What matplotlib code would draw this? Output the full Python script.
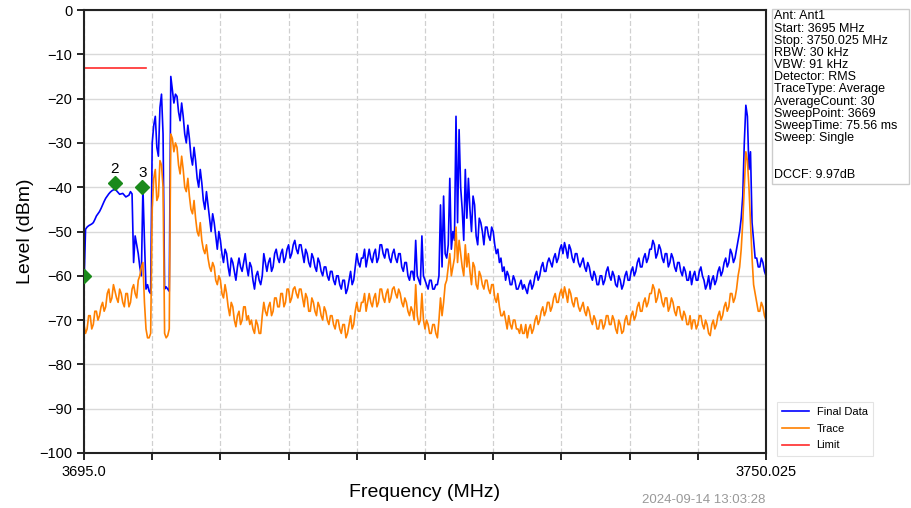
import numpy as np
import matplotlib
matplotlib.use("Agg")
import matplotlib.pyplot as plt
from matplotlib.patches import Rectangle

plt.rcParams['font.family'] = ['Liberation Sans', 'DejaVu Sans']

# ==========================
# Dados
# ==========================
f_start = 3695.0
f_stop = 3750.025

final_data = [
    -62, -49.5, -49, -48.7, -48.5, -48.3, -48, -47.3, -46.5, -46, -45.5, -44.8, -44, -43.2, -42.5, -42, -41.5, -41.1, -40.8, -40.6,
    -40.5, -40.8, -41.2, -41.6, -41.5, -41.4, -41.8, -42.2, -42, -41.8, -41, -41.5, -57, -51, -53, -55, -58, -60, -40, -52,
    -63, -62, -63.5, -64, -30, -26, -24, -31, -33, -22, -19, -28, -63, -62.5, -63, -63.5, -15, -18, -21, -19,
    -19.5, -23, -25, -21, -24, -28, -30, -26, -29, -33, -35, -31, -34, -38, -40, -36, -39, -43, -45, -41,
    -44, -47, -50, -46, -48, -51, -54, -50, -52, -55, -57, -54, -55, -58, -60, -56, -57, -59, -61, -58,
    -56, -58, -59, -57, -55, -58, -60, -57, -58, -61, -63, -60, -59, -61, -62, -60, -55, -57, -59, -57,
    -56, -59, -58, -55, -54, -56, -57, -55, -54, -57, -56, -54, -53, -56, -55, -53, -52, -54, -55, -53,
    -53, -55, -57, -54, -55, -57, -58, -55, -56, -58, -59, -56, -57, -59, -60, -58, -58, -60, -61, -59,
    -59, -61, -62, -60, -60, -62, -63, -61, -61, -64, -63, -61, -59, -62, -61, -58, -55, -57, -58, -56,
    -56, -54, -58, -56, -54, -56, -57, -55, -54, -57, -56, -53, -53, -55, -56, -54, -54, -56, -57, -55,
    -54, -56, -57, -55, -55, -58, -59, -57, -57, -60, -61, -59, -59, -61, -52, -60, -61, -62, -51, -60,
    -61, -62, -63, -61, -61, -63, -63, -62, -62, -60, -44, -58, -42, -55, -56, -53, -38, -54, -50, -52,
    -24, -48, -27, -40, -45, -52, -36, -47, -38, -45, -50, -42, -44, -51, -53, -47, -48, -50, -53, -49,
    -49, -51, -52, -49, -50, -53, -55, -54, -57, -56, -59, -58, -61, -59, -60, -62, -62, -60, -61, -63,
    -63, -62, -61, -63, -62, -63, -64, -62, -61, -63, -62, -60, -59, -61, -60, -58, -57, -59, -59, -57,
    -56, -57, -58, -56, -55, -57, -56, -54, -53, -55, -52.5, -54, -56, -53, -54, -56, -57, -55, -55, -57,
    -58, -57, -56, -58, -59, -57, -58, -60, -61, -59, -60, -62, -62, -60, -60, -62, -61, -59, -58, -60,
    -61, -59, -60, -62, -62.5, -60, -61, -63, -62, -60, -59, -61, -61, -59, -58, -60, -59, -57, -56, -58,
    -58, -56, -55, -57, -56, -54, -54, -52, -53, -56, -55, -53, -54, -56, -57, -55, -55, -58, -57, -55,
    -56, -58, -59, -57, -57, -59, -60, -58, -59, -61, -61, -59, -62, -60, -59, -61, -61, -59, -58, -60,
    -61, -63, -62, -60, -63, -61, -60, -62, -61, -59, -58, -60, -59, -57, -56, -58, -57, -54, -55, -57,
    -56, -54, -52, -50, -47, -42, -30, -21.5, -24, -36, -32, -48, -52, -56, -56, -58, -58, -56, -57, -59,
    -60,
]

trace = [
    -71, -73, -72, -69, -69, -72, -71, -68, -68, -70, -69, -67, -66, -68, -67, -64, -63, -66, -65, -62,
    -63.5, -65, -66, -63, -64, -66, -67, -64, -64, -67, -66, -63, -62, -64, -65, -61, -60, -58, -57, -66,
    -72, -74, -74, -73, -45, -38, -36, -43, -42, -34, -35, -40, -73, -74, -73.5, -72, -28, -29, -32, -30,
    -31, -35, -37, -33, -36, -40, -41, -38, -42, -45, -46, -43, -47, -50, -51, -48, -52, -54, -55, -53,
    -56, -58, -59, -57, -58, -61, -62, -60, -61, -64, -65, -62, -64, -67, -69, -66, -67, -70, -71.5, -69,
    -68, -71, -70, -67, -67, -70, -69, -71, -70, -72, -73, -70, -71, -73, -73, -69, -66, -68, -69, -67,
    -66, -69, -68, -65, -65, -67, -67, -64, -64, -67, -66, -63, -63, -66, -65, -63, -62.5, -64, -65, -63,
    -63, -65, -67, -64, -65, -68, -68, -65, -66, -68, -69, -66, -67, -69, -70, -67, -68, -70, -71, -69,
    -69, -71, -72, -70, -70, -72, -73, -71, -71, -74, -73, -71, -69, -72, -71, -68, -66, -68, -68, -66,
    -66, -64, -68, -66, -64, -66, -67, -65, -64, -67, -66, -63, -63, -65, -66, -64, -63, -66, -65, -63,
    -62.5, -64, -65, -63, -64, -66, -67, -65, -66, -68, -69, -67, -68, -70, -62, -69, -71, -70, -64, -70,
    -72, -70, -71, -73, -73, -71, -71, -73, -74, -70, -65, -69, -66, -62, -61, -58, -55, -60, -58, -56,
    -49, -57, -52, -55, -58, -60, -53, -58, -55, -59, -62, -57, -58, -62, -63, -59, -60, -62, -63, -61,
    -61, -63, -64, -62, -62, -65, -66, -64, -67, -69, -69, -68, -70, -72, -69, -71, -72, -70, -70, -72,
    -72, -73, -71, -73, -73, -71, -74, -72, -71, -73, -72, -70, -69, -71, -70, -68, -67, -69, -68, -66,
    -66, -68, -67, -65, -64, -66, -66, -64, -63, -65, -62.5, -64, -66, -63, -64, -66, -67, -65, -65, -67,
    -68, -67, -66, -68, -69, -67, -68, -70, -71, -69, -70, -72, -72, -70, -70, -72, -71, -69, -69, -71,
    -71, -69, -70, -72, -73, -70, -71, -73, -72.5, -70, -69, -71, -71, -69, -68, -70, -69, -67, -66, -68,
    -68, -66, -65, -67, -66, -64, -64, -62, -63, -66, -65, -63, -64, -66, -67, -65, -65, -68, -67, -65,
    -66, -68, -69, -67, -67, -69, -70, -68, -69, -71, -71, -69, -72, -70, -70, -72, -71, -69, -69, -71,
    -72, -70, -71, -73, -73.5, -71, -70, -72, -71, -69, -68, -70, -69, -67, -66, -68, -67, -64, -64, -66,
    -65, -63, -60, -58, -54, -48, -40, -32, -34, -40, -48, -56, -62, -64, -66, -68, -68, -66, -67, -69,
    -70,
]

limit_freqs = [3695.0, 3700.0]
limit_levels = [-13, -13]

marker_freqs = [3695.0, 3697.5, 3699.7]
marker_levels = [-60, -39, -40]
marker_labels = ["", "2", "3"]

info_lines = [
    "Ant: Ant1",
    "Start: 3695 MHz",
    "Stop: 3750.025 MHz",
    "RBW: 30 kHz",
    "VBW: 91 kHz",
    "Detector: RMS",
    "TraceType: Average",
    "AverageCount: 30",
    "SweepPoint: 3669",
    "SweepTime: 75.56 ms",
    "Sweep: Single",
]
dccf_text = "DCCF: 9.97dB"
timestamp = "2024-09-14 13:03:28"

freqs_final = np.linspace(f_start, f_stop, len(final_data))
freqs_trace = np.linspace(f_start, f_stop, len(trace))

# ==========================
# Gráfico
# ==========================
W, H = 912, 508
fig = plt.figure(figsize=(W / 100, H / 100), dpi=100)
ax = fig.add_axes([84 / W, 1 - 453 / H, (766 - 84) / W, (453 - 10) / H])

ax.plot(freqs_final, final_data, color="#0000ff", lw=1.2, label="Final Data")
ax.plot(freqs_trace, trace, color="#ff8000", lw=1.2, label="Trace")
ax.plot(limit_freqs, limit_levels, color="#ff2a2a", lw=1.2, label="Limit")

ax.plot(marker_freqs, marker_levels, "D", color="#1a8a1a", ms=7, zorder=5)
for fx, lv, lb in zip(marker_freqs, marker_levels, marker_labels):
    if lb:
        ax.text(fx, lv + 1.6, lb, ha="center", va="bottom", fontsize=11)

ax.set_xlim(f_start, f_stop)
ax.set_ylim(-100, 0)
xt = np.linspace(f_start, f_stop, 11)
ax.set_xticks(xt)
ax.set_xticklabels(["3695.0"] + [""] * 9 + ["3750.025"])
ax.set_yticks(np.arange(-100, 1, 10))
ax.tick_params(labelsize=10.5, length=5, width=1.2)

ax.grid(axis="y", color="#d9d9d9", lw=1.0)
ax.grid(axis="x", color="#d0d0d0", lw=0.9, ls=(0, (4, 2)))
ax.set_axisbelow(True)
for s in ax.spines.values():
    s.set_linewidth(1.5)
    s.set_color("#222222")

ax.set_xlabel("Frequency (MHz)", fontsize=14, labelpad=4)
ax.set_ylabel("Level (dBm)", fontsize=14, labelpad=4)

leg = ax.legend(loc="upper left", bbox_to_anchor=(771 / W, 1 - 396 / H),
                bbox_transform=fig.transFigure, fontsize=8, frameon=True,
                fancybox=False, edgecolor="#dddddd", handlelength=2.4,
                borderpad=0.5, labelspacing=0.6, handletextpad=0.7)
leg.get_frame().set_linewidth(0.8)

# caixa de informações
fig.patches.append(Rectangle((772 / W, 1 - 184 / H), 137 / W, 175 / H,
                             transform=fig.transFigure, fill=False,
                             edgecolor="#cccccc", lw=1.0))
for k, line in enumerate(info_lines):
    fig.text(774 / W, 1 - (16.5 + 12.15 * k) / H, line, fontsize=9,
             va="center", ha="left")
fig.text(774 / W, 1 - 175 / H, dccf_text, fontsize=9, va="center", ha="left")

fig.text(765 / W, 1 - 500 / H, timestamp, fontsize=9.5, color="#999999",
         ha="right", va="center")

plt.savefig("out.png", dpi=100)
plt.close()
